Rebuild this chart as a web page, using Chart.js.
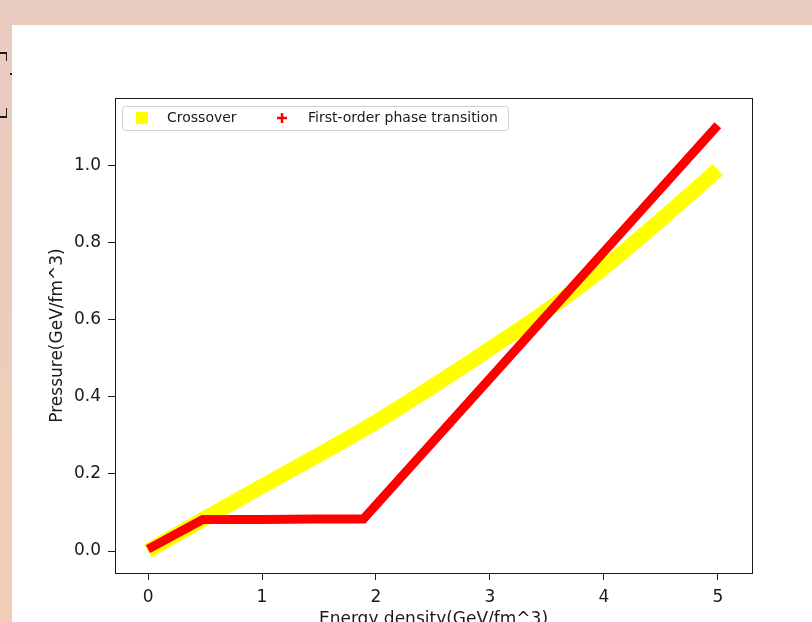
<!DOCTYPE html>
<html>
<head>
<meta charset="utf-8">
<script src="https://cdn.jsdelivr.net/npm/chart.js@4.4.1/dist/chart.umd.min.js"></script>
<style>
html, body { margin: 0; padding: 0; width: 812px; height: 622px; overflow: hidden; }
body { background: #eacbc0; position: relative; font-family: "DejaVu Sans", sans-serif; }
#strip { position: absolute; left: 0; top: 25px; width: 12px; height: 597px; background: linear-gradient(#eacbc0, #f1cdb7); }
#panel { position: absolute; left: 12px; top: 25px; width: 800px; height: 597px; background: #fff; overflow: hidden; }
#chart { position: absolute; left: 0; top: 0; }
.frag { position: absolute; background: #1a1a1a; }
</style>
</head>
<body>
<div id="strip"></div>
<div class="frag" style="left:0;top:52px;width:7px;height:2px"></div>
<div class="frag" style="left:6px;top:52px;width:1px;height:9px"></div>
<div class="frag" style="left:10px;top:73px;width:2px;height:2px"></div>
<div class="frag" style="left:0;top:116px;width:7px;height:2px"></div>
<div class="frag" style="left:6px;top:108px;width:1px;height:9px"></div>
<div id="panel"><canvas id="chart" width="800" height="620"></canvas></div>
<script>
// values
const crossoverE = [0, 0.5, 1, 1.5, 2, 2.5, 3, 3.5, 4, 4.5, 5];
const crossoverP = [0, 0.085, 0.168, 0.25, 0.335, 0.428, 0.525, 0.625, 0.735, 0.86, 0.99];
const firstOrderE = [0, 0.48, 1.0, 1.5, 1.89, 5];
const firstOrderP = [0.005, 0.082, 0.082, 0.083, 0.083, 1.105];
const xTicks = [0, 1, 2, 3, 4, 5];
const yTicks = [0.0, 0.2, 0.4, 0.6, 0.8, 1.0];

function toPoints(xs, ys) {
  return xs.map((x, i) => ({ x: x, y: ys[i] }));
}

Chart.defaults.font.family = "DejaVu Sans";
Chart.defaults.font.size = 17;
Chart.defaults.color = "#1a1a1a";

// matplotlib-like box legend inside the axes plus the frame
const boxPlugin = {
  id: "boxLegend",
  afterDatasetsDraw(chart) {
    const ctx = chart.ctx;
    const a = chart.chartArea;
    ctx.save();
    ctx.strokeStyle = "#1a1a1a";
    ctx.lineWidth = 1;
    ctx.strokeRect(a.left + 0.5, a.top + 0.5, a.right - a.left, a.bottom - a.top);

    const bx = a.left + 7, by = a.top + 8, bw = 386, bh = 24;
    ctx.fillStyle = "rgba(255,255,255,0.8)";
    ctx.strokeStyle = "#d0d0d0";
    ctx.beginPath();
    ctx.roundRect(bx + 0.5, by + 0.5, bw, bh, 3);
    ctx.fill();
    ctx.stroke();

    ctx.font = "14px 'DejaVu Sans'";
    ctx.fillStyle = "#1a1a1a";
    ctx.textBaseline = "middle";
    const cy = by + bh / 2;
    const ds = chart.data.datasets;
    // crossover: square marker
    ctx.fillStyle = ds[0].borderColor;
    ctx.fillRect(bx + 14, cy - 6, 12, 12);
    ctx.fillStyle = "#1a1a1a";
    ctx.fillText(ds[0].label, bx + 45, cy);
    // first-order: plus marker
    ctx.strokeStyle = ds[1].borderColor;
    ctx.lineWidth = 2.5;
    ctx.beginPath();
    ctx.moveTo(bx + 155, cy); ctx.lineTo(bx + 165, cy);
    ctx.moveTo(bx + 160, cy - 5); ctx.lineTo(bx + 160, cy + 5);
    ctx.stroke();
    ctx.fillText(ds[1].label, bx + 186, cy);
    ctx.restore();
  }
};

new Chart(document.getElementById("chart"), {
  type: "line",
  data: {
    datasets: [
      {
        label: "Crossover",
        data: toPoints(crossoverE, crossoverP),
        borderColor: "#ffff00",
        backgroundColor: "#ffff00",
        borderWidth: 15,
        borderCapStyle: "butt",
        cubicInterpolationMode: "monotone",
        pointRadius: 0,
        order: 1
      },
      {
        label: "First-order phase transition",
        data: toPoints(firstOrderE, firstOrderP),
        borderColor: "#ff0000",
        backgroundColor: "#ff0000",
        borderWidth: 9,
        borderCapStyle: "butt",
        tension: 0,
        pointRadius: 0,
        order: 0
      }
    ]
  },
  options: {
    responsive: false,
    animation: false,
    layout: { padding: { left: 30, top: 73, right: 60, bottom: 0 } },
    plugins: { legend: { display: false }, tooltip: { enabled: false } },
    scales: {
      x: {
        type: "linear",
        min: -0.29,
        max: 5.3,
        afterFit: s => { s.height = 72; },
        afterBuildTicks: s => { s.ticks = xTicks.map(v => ({ value: v })); },
        ticks: { padding: 7, callback: v => v.toFixed(0), maxRotation: 0 },
        grid: { display: true, drawOnChartArea: false, drawTicks: true, tickLength: 7, color: "#1a1a1a" },
        border: { display: false },
        title: { display: true, text: "Energy density(GeV/fm^3)", font: { size: 17 }, padding: { top: 4, bottom: 15 } }
      },
      y: {
        type: "linear",
        min: -0.057,
        max: 1.176,
        afterFit: s => { s.width = 73; },
        afterBuildTicks: s => { s.ticks = yTicks.map(v => ({ value: v })); },
        ticks: { padding: 7, callback: v => v.toFixed(1) },
        grid: { display: true, drawOnChartArea: false, drawTicks: true, tickLength: 7, color: "#1a1a1a" },
        border: { display: false },
        title: { display: true, text: "Pressure(GeV/fm^3)", font: { size: 17 }, padding: { top: 5, bottom: 4 } }
      }
    }
  },
  plugins: [boxPlugin]
});
</script>
</body>
</html>
